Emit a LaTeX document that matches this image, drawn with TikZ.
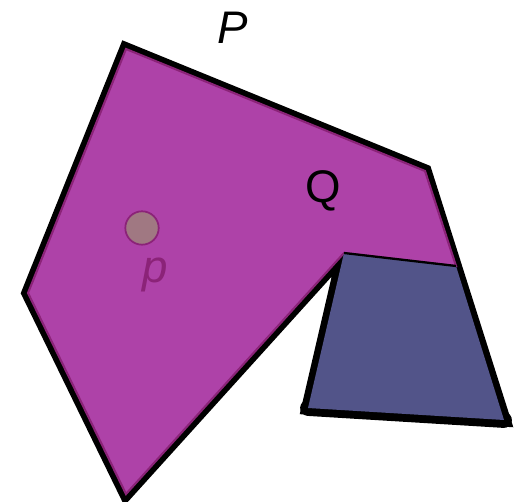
\documentclass[tikz,border=0pt]{standalone}
\usepackage{fontspec}
\setmainfont{Liberation Sans}
\usetikzlibrary{positioning}
\usepackage{xcolor}
\definecolor{Magenta}{HTML}{AE42A8}
\definecolor{DeepMagenta}{HTML}{8B2378}
\definecolor{Slate}{HTML}{525489}
\definecolor{Mauve}{HTML}{A07882}
\tikzset{
 outer/.style={draw=black, line width=7.6pt},
 region/.style={fill=Magenta, draw=DeepMagenta, line width=1.2pt},
 hole/.style={fill=Slate},
 seam/.style={draw=black, line width=1.3pt},
 point/.style={circle, draw=DeepMagenta, fill=Mauve, line width=1pt, minimum size=19pt, inner sep=0pt},
 label/.style={font=\fontsize{26}{29}\selectfont, inner sep=0pt}
}

\begin{document}
\begin{tikzpicture}[x=0.02cm, y=-0.02cm]
\useasboundingbox (0,0) rectangle (520,502);
% corners of P
\coordinate (a) at (126,49);
\coordinate (b) at (425,171);
\coordinate (c) at (504,420);
\coordinate (d) at (308,408);
\coordinate (e) at (344,253);
\coordinate (f) at (126,494);
\coordinate (g) at (28,293);
\coordinate (h) at (456,266);
% P, then Q and the blue part on top
\draw[outer] (a) -- (b) -- (c) -- (d) -- (e) -- (f) -- (g) -- cycle;
\draw[outer, line width=9pt, line cap=round] (d) -- (c);
\filldraw[region] (a) -- (b) -- (h) -- (e) -- (f) -- (g) -- cycle;
\fill[hole] (e) -- (h) -- (c) -- (d) -- cycle;
\draw[seam] (e) -- (h);
% labels
\node[label] (plabel) at (233,28) {\itshape P};
\node[label] (qlabel) at (323,191) {Q};
\node[point] (pt) at (142,228) {};
\node[label, text=DeepMagenta, below right=10pt and -7pt of pt] (ptlabel) {\itshape p};
\end{tikzpicture}
\end{document}
